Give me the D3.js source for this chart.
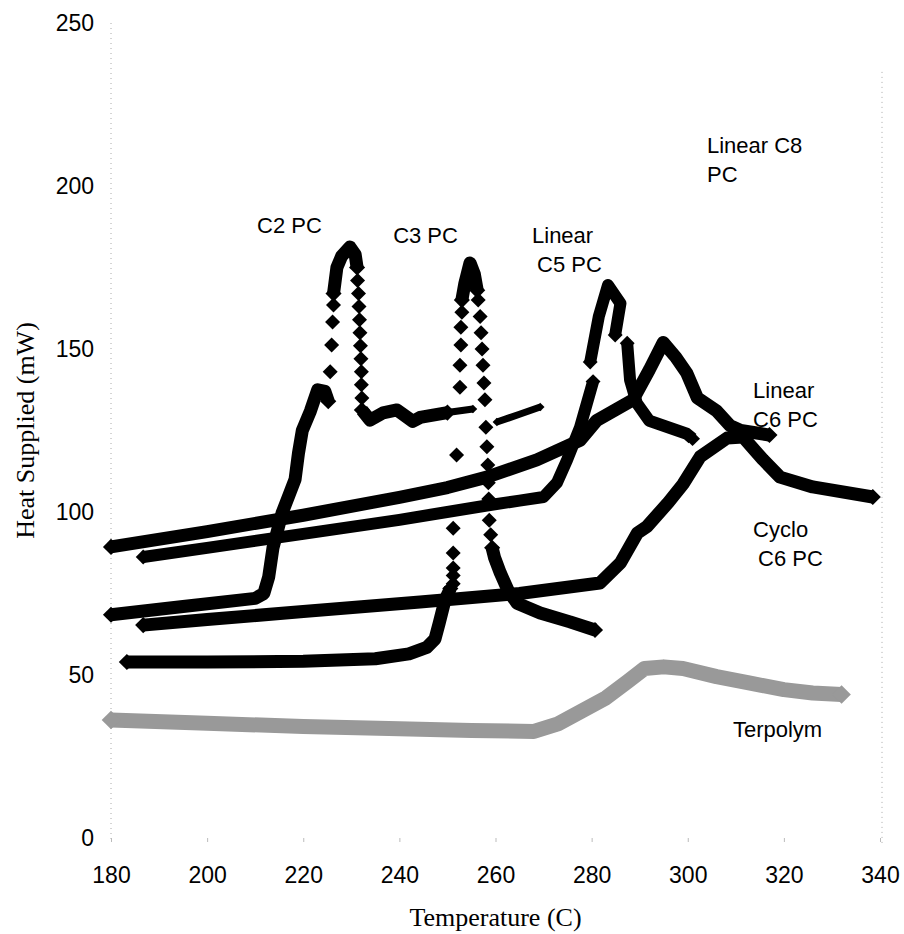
<!DOCTYPE html>
<html>
<head>
<meta charset="utf-8">
<script src="https://cdn.jsdelivr.net/npm/d3@7"></script>
<style>
  body { margin: 0; background: #fff; }
  svg { display: block; }
  .tick text { font-family: "Liberation Sans", Arial, sans-serif; font-size: 23px; fill: #000; }
  .axis path.domain { display: none; }
  .axis line { stroke: #bbb; }
  .lbl { font-family: "Liberation Sans", Arial, sans-serif; font-size: 22px; fill: #000; }
  .title { font-family: "Liberation Serif", "Times New Roman", serif; font-size: 26px; fill: #000; }
</style>
</head>
<body>
<script>
'use strict';
// 온도(C) / 열량(mW) 값. null 은 곡선이 끊어지는 곳.
const xTicks = [180, 200, 220, 240, 260, 280, 300, 320, 340];
const yTicks = [0, 50, 100, 150, 200, 250];

const c2Trace = [[180,68.5],[195,71],[210,73.5],[211.8,75],[212.8,80],[213.7,89],[215.6,99.7],[217,105],[218.3,110],[219,118],
  [219.8,125],[221.5,131],[223,137.5],[224.5,137],[225.2,134], null,
  [226.3,167],[227,175],[228,178.5],[229.7,181.3],[230.8,179],[231.2,175], null,
  [232.2,131.3],[233.9,128.2],[236.6,130.4],[239.5,131.3],[242.8,127.8],[244.3,129],[250,130.5]];
const c2Tail = [[250,130.5],[255.3,131.6], null, [260.3,127.6],[265,130],[269.3,132.2]];
const c2Dots = [[225.6,143],[225.9,151.2],[226.1,158.3],[226.3,163.5],
  [231.3,171],[231.5,167],[231.6,163],[231.7,159],[231.8,155],[231.9,151],[232,147],[232.1,143],[232.1,139],[232.2,135]];

const c3Trace = [[183.3,54],[200,54],[220,54.2],[235,55],[242,56.5],[245.7,58.5],[247.4,61],[248.3,66],[249.5,73],[250.6,76.5], null,
  [253,165],[253.6,170],[254.7,176.4],[255.6,173],[256.2,168], null,
  [259.3,89],[259.8,86],[261,81.3],[262.6,76],[264.5,72],[269.3,69],[275.5,66.3],[280.7,63.8]];
const c3Dots = [[251.2,78],[251.2,80.5],[251.2,82.8],[251.2,87.4],[251.2,95],[251.9,117.5],[252.6,138.3],[252.6,145],[252.8,151.2],[252.8,156.7],[253,161.3],
  [256.4,165],[256.8,160],[257,155],[257.2,150],[257.4,145],[257.6,139.6],[257.8,134.4],[258,126],[258.2,120],[258.4,114.4],
  [258.5,109],[258.6,104],[258.7,97.5],[259,93]];

const c5Trace = [[186.7,86.2],[200,89],[220,93.3],[240,97.6],[258.2,102],[265,103.5],[270,104.6],[272.8,109],[274.9,116],[277.6,126],[280.3,140], null,
  [279.7,146],[281.5,160],[283.4,169.6],[286,164],[284.9,154.3], null,
  [287.4,151.8],[288,140.5],[289.4,133.4],[292,128],[299.8,124],[301,122.5]];

const c6Trace = [[180,89.3],[200,94],[220,99],[240,104.5],[250,107.5],[258.2,110.7],[268.6,116],[277.6,122],[281,128],[288.6,134.4],
  [292,143.6],[294.9,152],[297.5,147.5],[299.8,142.6],[302,135],[306,131],[308.8,126.5],[311,125],[317,123.6]];

const cycloTrace = [[186.7,65.3],[200,67],[220,69.5],[244.3,72.4],[265,75],[281.7,78.2],[286,84.4],[289.5,93.5],[291.5,95.5],
  [296,103],[299,108.5],[302.6,117],[308.2,122.7],[311.5,123],[315.7,116],[319.2,110.7],[326,107.7],[338.5,104.6]];

const terpolymTrace = [[180,36.2],[200,35.2],[220,34.2],[240,33.5],[255,33],[268,32.7],[273,35],[278,39],[283,43],[287.5,48],
  [291,52],[295,52.5],[299,52],[306,49.5],[313,47.5],[320,45.5],[326,44.5],[332,44]];

// 곡선 이름표: [온도, 열량, 줄들]
const labels = [
  { t: 210.4, q: 185.6, lines: ['C2 PC'], indent: 0 },
  { t: 238.7, q: 182.5, lines: ['C3 PC'], indent: 0 },
  { t: 267.6, q: 182.5, lines: ['Linear', 'C5 PC'], indent: 5 },
  { t: 304.0, q: 210.0, lines: ['Linear C8', 'PC'], indent: 0 },
  { t: 313.6, q: 135.0, lines: ['Linear', 'C6 PC'], indent: 0 },
  { t: 313.6, q: 92.3, lines: ['Cyclo', 'C6 PC'], indent: 5 },
  { t: 309.4, q: 31.0, lines: ['Terpolym'], indent: 0 }
];

const svg = d3.select(document.body).append('svg')
  .attr('width', 904).attr('height', 934);

const x = d3.scaleLinear().domain([180, 340]).range([111, 880]);
const y = d3.scaleLinear().domain([0, 250]).range([838, 23]);

drawFrame(svg);
drawAxes(svg);
drawCurves(svg);
drawLabels(svg);

function drawFrame(object){
  // 스캔본의 점선 테두리
  const g = object.append('g').attr('stroke', '#aaa').attr('stroke-dasharray', '1,4');
  g.append('line').attr('x1', x(180)).attr('x2', x(180)).attr('y1', y(250)).attr('y2', y(0) + 5);
  g.append('line').attr('x1', x(340) + 2).attr('x2', x(340) + 2).attr('y1', y(235)).attr('y2', y(0) + 5);
}

function drawAxes(object){
  object.append('g')
    .attr('class', 'axis')
    .attr('transform', `translate(${x(180)},0)`)
    .call(d3.axisLeft(y).tickValues(yTicks).tickSize(0).tickPadding(17));
  object.append('g')
    .attr('class', 'axis')
    .attr('transform', `translate(0,${y(0)})`)
    .call(d3.axisBottom(x).tickValues(xTicks).tickSizeInner(4).tickSizeOuter(0).tickPadding(25));

  object.append('text').attr('class', 'title')
    .attr('x', (x(180) + x(340)) / 2).attr('y', 926)
    .attr('text-anchor', 'middle').text('Temperature (C)');
  object.append('text').attr('class', 'title')
    .attr('transform', `translate(34,${y(125)}) rotate(-90)`)
    .attr('text-anchor', 'middle').text('Heat Supplied (mW)');
}

function diamond(r){
  return `M0,${-r}L${r},0L0,${r}L${-r},0Z`;
}

function segments(pts){
  const out = [];
  let cur = [];
  pts.forEach(function(d){
    if (d === null) { if (cur.length) out.push(cur); cur = []; }
    else cur.push(d);
  });
  if (cur.length) out.push(cur);
  return out;
}

function drawTrace(g, pts, width, color){
  const line = d3.line()
    .defined(d => d !== null)
    .x(d => x(d[0]))
    .y(d => y(d[1]))
    .curve(d3.curveLinear);
  g.append('path')
    .datum(pts)
    .attr('d', line)
    .attr('fill', 'none')
    .attr('stroke', color)
    .attr('stroke-width', width)
    .attr('stroke-linejoin', 'round');
  // 끝 부분은 다이아몬드 마커로 뾰족하게
  const ends = [];
  segments(pts).forEach(s => { ends.push(s[0]); ends.push(s[s.length - 1]); });
  g.selectAll(null).data(ends).enter().append('path')
    .attr('d', diamond(width * 0.62))
    .attr('fill', color)
    .attr('transform', d => `translate(${x(d[0])},${y(d[1])})`);
}

function drawDots(g, pts){
  g.selectAll(null).data(pts).enter().append('path')
    .attr('d', diamond(7.5))
    .attr('fill', '#000')
    .attr('transform', d => `translate(${x(d[0])},${y(d[1])})`);
}

function drawCurves(object){
  const g = object.append('g').attr('class', 'curves');
  drawTrace(g, terpolymTrace, 15, '#999');
  drawTrace(g, cycloTrace, 13, '#000');
  drawTrace(g, c6Trace, 13, '#000');
  drawTrace(g, c5Trace, 12, '#000');
  drawTrace(g, c3Trace, 13, '#000');
  drawDots(g, c3Dots);
  drawTrace(g, c2Trace, 13, '#000');
  drawTrace(g, c2Tail, 7, '#000');
  drawDots(g, c2Dots);
}

function drawLabels(object){
  const g = object.append('g');
  labels.forEach(function(l){
    const t = g.append('text').attr('class', 'lbl')
      .attr('x', x(l.t)).attr('y', y(l.q));
    l.lines.forEach(function(s, i){
      t.append('tspan')
        .attr('x', x(l.t) + (i > 0 ? l.indent : 0))
        .attr('dy', i === 0 ? 0 : 29)
        .text(s);
    });
  });
}
</script>
</body>
</html>
